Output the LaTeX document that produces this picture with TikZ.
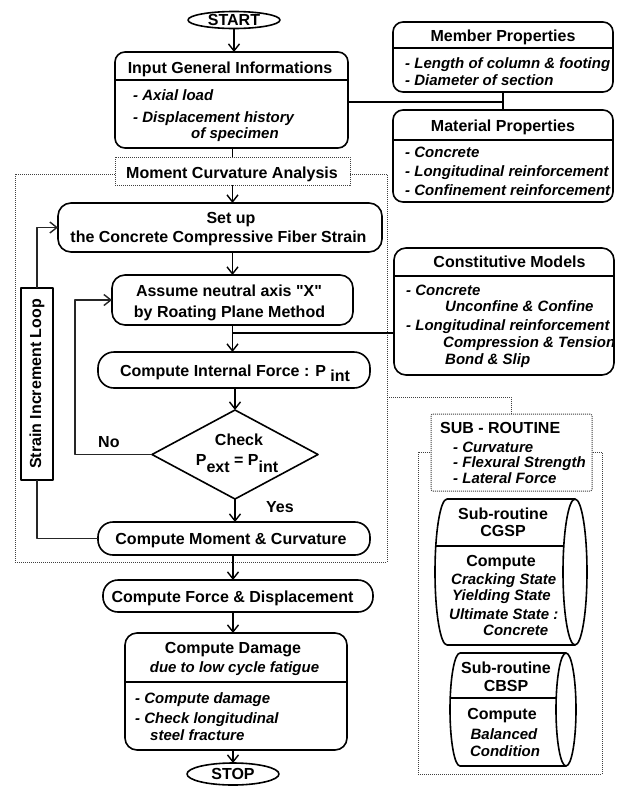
\documentclass[tikz,border=0pt]{standalone}
\usepackage{fontspec}
\setmainfont[Ligatures=TeXOff]{Liberation Sans}
\usetikzlibrary{arrows.meta,shapes.geometric}
\newcommand\ttlfont{\fontsize{16}{19}\selectfont\bfseries}
\newcommand\itmfont{\fontsize{15}{18}\selectfont\bfseries\itshape}
\begin{document}
\begin{tikzpicture}[x=1pt,y=-1pt,line join=round,
  box/.style={draw,line width=1.6pt,rounded corners=10pt,fill=white,inner sep=0pt,outer sep=0pt},
  dotbox/.style={draw=black!75,line width=1pt,dash pattern=on 1pt off 1pt,fill=white,inner sep=0pt,outer sep=0pt},
  dotline/.style={draw=black!75,line width=1pt,dash pattern=on 1pt off 1pt},
  div/.style={line width=1.3pt},
  arr/.style={line width=1.3pt,-{Straight Barb[length=7pt,width=11pt,line width=1.4pt]}},
  conn/.style={line width=1.3pt},
  loopl/.style={line width=1.1pt,draw=black!85},
  looparr/.style={line width=1.1pt,draw=black!85,-{Straight Barb[length=7pt,width=11pt,line width=1.4pt]}},
  cyl/.style={line width=1.6pt},
  T/.style={inner sep=0pt,font=\ttlfont,anchor=base},
  TL/.style={inner sep=0pt,font=\ttlfont,anchor=base west},
  I/.style={inner sep=0pt,font=\itmfont,anchor=base west},
  IC/.style={inner sep=0pt,font=\itmfont,anchor=base},
  term/.style={draw,ellipse,line width=1.6pt,fill=white,inner sep=0pt,outer sep=0pt,font=\ttlfont}]
\useasboundingbox (0,0) rectangle (626,796);

% dotted containers
\node[dotbox,minimum width=372pt,minimum height=388pt] (mcaout) at (201,368) {};
\node[dotbox,minimum width=184pt,minimum height=322pt] (subout) at (510,613) {};
\node[dotbox,minimum width=235pt,minimum height=28pt] (mca) at (232.5,171) {};
\node[T] (tmca) at (232,178) {Moment Curvature Analysis};
\node[dotbox,rounded corners=2pt,minimum width=161pt,minimum height=77pt] (sub) at (511.5,452.5) {};
\draw[dotline] (mcaout.east |- 0,397) -| (sub.north);

% start
\node[term,minimum width=92pt,minimum height=17pt] (start) at (234,20) {START};

% input
\node[box,minimum width=233pt,minimum height=96pt] (input) at (231.5,100) {};
\draw[div] (input.west |- 0,80) -- (input.east |- 0,80);
\node[T] (tin) at (230,73) {Input General Informations};
\node[I] (tin1) at (133,100) {- Axial load};
\node[I] (tin2) at (133,122) {- Displacement history};
\node[I] (tin3) at (191,138) {of specimen};

% member
\node[box,minimum width=220pt,minimum height=70pt] (member) at (503,57) {};
\draw[div] (member.west |- 0,48) -- (member.east |- 0,48);
\node[T] (tmem) at (503,41) {Member Properties};
\node[I] (tmem1) at (405,68) {- Length of column \& footing};
\node[I] (tmem2) at (405,85) {- Diameter of section};

% material
\node[box,minimum width=220pt,minimum height=92pt] (material) at (503,156) {};
\draw[div] (material.west |- 0,140) -- (material.east |- 0,140);
\node[T] (tmat) at (503,131) {Material Properties};
\node[I] (tmat1) at (405,157) {- Concrete};
\node[I] (tmat2) at (405,176) {- Longitudinal reinforcement};
\node[I] (tmat3) at (405,195) {- Confinement reinforcement};

% constitutive
\node[box,rounded corners=12pt,minimum width=220pt,minimum height=127pt] (const) at (504,311.5) {};
\draw[div] (const.west |- 0,276) -- (const.east |- 0,276);
\node[T] (tcon) at (509.5,267) {Constitutive Models};
\node[I] (tcon1) at (406,295) {- Concrete};
\node[I] (tcon2) at (445,311) {Unconfine \& Confine};
\node[I] (tcon3) at (406,330) {- Longitudinal reinforcement};
\node[I] (tcon4) at (443,347) {Compression \& Tension};
\node[I] (tcon5) at (445,364) {Bond \& Slip};

% set up
\node[box,rounded corners=13pt,minimum width=324pt,minimum height=49pt] (setup) at (220,227.5) {};
\node[T] (tset1) at (231,223) {Set up};
\node[T] (tset2) at (218.5,242) {the Concrete Compressive Fiber Strain};

% assume
\node[box,rounded corners=13pt,minimum width=241pt,minimum height=50pt] (assume) at (232.5,300) {};
\node[T] (tas1) at (229,296) {Assume neutral axis "X"};
\node[T] (tas2) at (229.5,317) {by Roating Plane Method};

% internal
\node[box,rounded corners=16pt,minimum width=272pt,minimum height=36pt] (internal) at (234,370) {};
\node[T] (tint) at (235,376) {Compute Internal Force : P {\raisebox{-5pt}{int}}};

% check
\node[draw,diamond,line width=1.6pt,fill=white,minimum width=166pt,minimum height=89pt,inner sep=0pt,outer sep=0pt] (check) at (235,454.5) {};
\node[T] (tch1) at (239,445) {Check};
\node[T] (tch2) at (237,465) {P\raisebox{-7pt}{ext} = P\raisebox{-7pt}{int}};
\node[TL] (tno) at (98,447) {No};
\node[TL] (tyes) at (266,512) {Yes};

% moment
\node[box,rounded corners=15pt,minimum width=272pt,minimum height=33pt] (moment) at (234,538.5) {};
\node[T] (tmom) at (231,544) {Compute Moment \& Curvature};

% strain loop
\node[draw,line width=1.6pt,fill=white,rotate=90,minimum width=192pt,minimum height=32pt,inner sep=0pt,outer sep=0pt,font=\ttlfont] (strain) at (37,384) {Strain Increment Loop};

% force
\node[box,rounded corners=15pt,minimum width=270pt,minimum height=32pt] (force) at (238,596) {};
\node[T] (tfor) at (232.5,602) {Compute Force \& Displacement};

% damage
\node[box,rounded corners=12pt,minimum width=222pt,minimum height=117pt] (damage) at (236,691.5) {};
\draw[div] (damage.west |- 0,682) -- (damage.east |- 0,682);
\node[T] (tdam) at (233,653) {Compute Damage};
\node[IC] (tdam0) at (234.5,672) {due to low cycle fatigue};
\node[I] (tdam1) at (135,703) {- Compute damage};
\node[I] (tdam2) at (135,723) {- Check longitudinal};
\node[I] (tdam3) at (150,740) {steel fracture};

% stop
\node[term,minimum width=92pt,minimum height=22pt] (stop) at (233,774) {STOP};

% sub-routine text
\node[TL] (tsub) at (440,433) {SUB - ROUTINE};
\node[I] (tsub1) at (453,452) {- Curvature};
\node[I] (tsub2) at (453,467) {- Flexural Strength};
\node[I] (tsub3) at (453,483) {- Lateral Force};

% CGSP cylinder
\draw[cyl,fill=white] (447,499) -- (575,499) -- (575,645) -- (447,645) arc[start angle=270,end angle=90,x radius=12pt,y radius=73pt] -- cycle;
\draw[cyl] (447,499) -- (575,499);
\draw[cyl] (447,645) -- (575,645);
\draw[cyl,fill=white] (575,572) ellipse[x radius=12pt,y radius=73pt];
\draw[div] (436,546) -- (563.5,546);
\node[T] (tg1) at (503,519) {Sub-routine};
\node[T] (tg2) at (503,536) {CGSP};
\node[T] (tg3) at (501,566) {Compute};
\node[I] (tg4) at (451,584) {Cracking State};
\node[I] (tg5) at (452,600) {Yielding State};
\node[I] (tg6) at (449,619) {Ultimate State :};
\node[I] (tg7) at (483,635) {Concrete};

% CBSP cylinder
\draw[cyl,fill=white] (460,653) -- (566,653) -- (566,766) -- (460,766) arc[start angle=270,end angle=90,x radius=10pt,y radius=56.5pt] -- cycle;
\draw[cyl,fill=white] (566,709.5) ellipse[x radius=10pt,y radius=56.5pt];
\draw[div] (450.5,698) -- (556.5,698);
\node[T] (tb1) at (506,673) {Sub-routine};
\node[T] (tb2) at (506,691) {CBSP};
\node[T] (tb3) at (502,719) {Compute};
\node[IC] (tb4) at (504,739) {Balanced};
\node[IC] (tb5) at (505,756) {Condition};

% connectors
\coordinate (ax) at (233,0);
\draw[arr] (start.south) -- (start.south |- input.north);
\draw[conn] (mca.north |- input.south) -- (mca.north);
\draw[arr] (mca.south) -- (mca.south |- setup.north);
\draw[arr] (assume.north |- setup.south) -- (assume.north);
\draw[arr] (assume.south) -- (assume.south |- internal.north);
\draw[arr] (check.north |- internal.south) -- (check.north);
\draw[arr] (check.south) -- (check.south |- moment.north);
\draw[arr] (ax |- moment.south) -- (ax |- force.north);
\draw[arr] (ax |- force.south) -- (ax |- damage.north);
\draw[arr] (ax |- damage.south) -- (ax |- stop.north);

\draw[conn] (input.east |- 0,102) -- (member.south |- 0,102);
\draw[conn] (member.south) -- (material.north);
\draw[conn] (const.west |- 0,333) -- (ax |- 0,333);

\draw[loopl] (moment.west) -| (strain);
\draw[looparr] (strain) |- (setup.west);
\coordinate (nocorner) at (75,454.5);
\draw[looparr] (check.west) -- (nocorner) |- (assume.west);
\end{tikzpicture}
\end{document}
